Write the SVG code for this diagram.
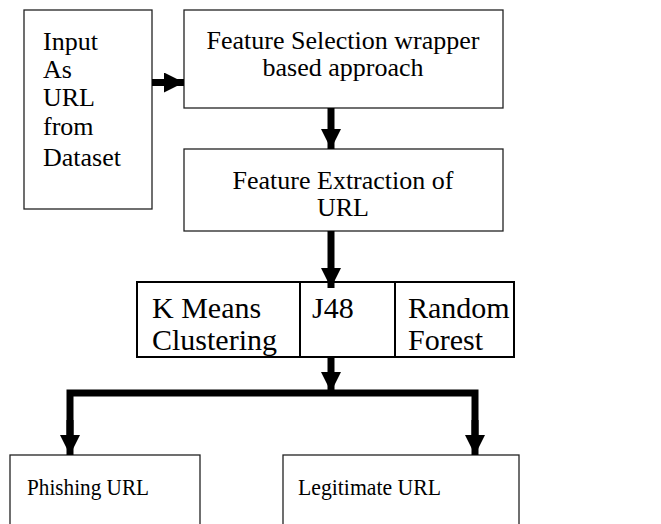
<svg xmlns="http://www.w3.org/2000/svg" width="661" height="524" viewBox="0 0 661 524">
  <style>
    .box { fill: #ffffff; stroke: #222222; stroke-width: 1.3; }
    .rowbox { fill: #ffffff; stroke: #000000; stroke-width: 2; }
    .t { font-family: "Liberation Serif", "Times New Roman", serif; fill: #000000; }
    .t26 { font-size: 26px; }
    .t30 { font-size: 30px; }
    .t24 { font-size: 24px; }
    .wire { fill: none; stroke: #000000; stroke-width: 7; }
  </style>
  <defs>
    <marker id="head" markerUnits="userSpaceOnUse" markerWidth="20" markerHeight="20" viewBox="0 0 20 20" refX="20" refY="10" orient="auto">
      <path d="M0,0 L20,10 L0,20 Z" fill="#000000"/>
    </marker>
  </defs>

  <g id="input">
    <rect class="box" x="24" y="10" width="128" height="199"/>
    <text class="t t26" x="43" y="50">Input</text>
    <text class="t t26" x="43" y="78">As</text>
    <text class="t t26" x="43" y="106">URL</text>
    <text class="t t26" x="43" y="135">from</text>
    <text class="t t26" x="43" y="166">Dataset</text>
  </g>

  <g id="feature-selection">
    <rect class="box" x="184" y="10" width="319" height="98"/>
    <text class="t t26" x="343" y="49" text-anchor="middle">Feature Selection wrapper</text>
    <text class="t t26" x="343" y="76" text-anchor="middle">based approach</text>
  </g>

  <g id="feature-extraction">
    <rect class="box" x="184" y="149" width="319" height="82"/>
    <text class="t t26" x="343" y="189" text-anchor="middle">Feature Extraction of</text>
    <text class="t t26" x="343" y="216" text-anchor="middle">URL</text>
  </g>

  <g id="classifiers">
    <rect class="rowbox" x="137" y="282" width="377" height="75"/>
    <line class="rowbox" x1="300" y1="282" x2="300" y2="357"/>
    <line class="rowbox" x1="395" y1="282" x2="395" y2="357"/>
    <text class="t t30" x="152" y="318">K Means</text>
    <text class="t t30" x="152" y="350">Clustering</text>
    <text class="t t30" x="312" y="318">J48</text>
    <text class="t t30" x="408" y="318">Random</text>
    <text class="t t30" x="408" y="350">Forest</text>
  </g>

  <g id="phishing">
    <rect class="box" x="10" y="455" width="190" height="80"/>
    <text class="t t24" x="27" y="495" textLength="122" lengthAdjust="spacingAndGlyphs">Phishing URL</text>
  </g>

  <g id="legitimate">
    <rect class="box" x="283" y="455" width="236" height="80"/>
    <text class="t t24" x="298" y="495" textLength="143" lengthAdjust="spacingAndGlyphs">Legitimate URL</text>
  </g>

  <g id="connectors">
    <path class="wire" d="M152,82.5 H184" marker-end="url(#head)"/>
    <path class="wire" d="M331,108 V149" marker-end="url(#head)"/>
    <path class="wire" d="M331,231 V288" marker-end="url(#head)"/>
    <path class="wire" d="M331,357 V392" marker-end="url(#head)"/>
    <path class="wire" d="M70,436 V393 H475 V436"/>
    <path class="wire" d="M70,420 V455" marker-end="url(#head)"/>
    <path class="wire" d="M475,420 V455" marker-end="url(#head)"/>
  </g>
</svg>
